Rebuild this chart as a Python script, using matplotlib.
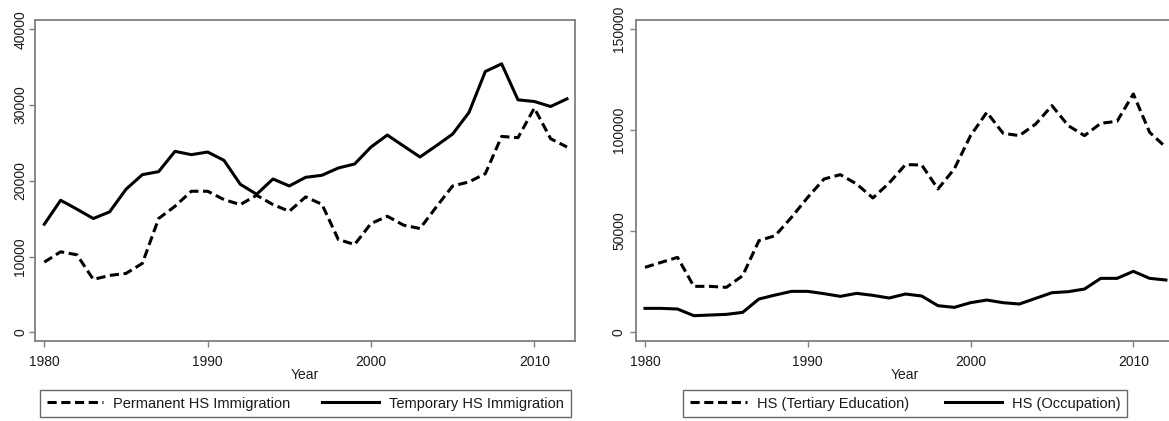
import matplotlib
matplotlib.use("Agg")
import matplotlib.pyplot as plt

plt.rcParams['font.family'] = ['Liberation Sans', 'DejaVu Sans']

years = list(range(1980, 2013))

permanent_hs = [9270, 10630, 10230, 6980, 7510, 7770, 9090, 15020, 16640, 18620,
                18620, 17520, 16860, 18090, 16860, 15980, 17870, 16900, 12250, 11590,
                14360, 15320, 14140, 13700, 16550, 19320, 19850, 20940, 25860, 25690,
                29600, 25560, 24460]
temporary_hs = [14270, 17430, 16250, 15020, 15900, 18880, 20810, 21210, 23890, 23450,
                23800, 22700, 19540, 18220, 20240, 19320, 20460, 20730, 21690, 22220,
                24460, 26040, 24590, 23140, 24630, 26170, 29020, 34430, 35440, 30690,
                30470, 29810, 30820]
tertiary_hs = [31920, 34400, 36880, 22490, 22490, 22000, 27790, 45150, 47640, 56730,
               66660, 75750, 77900, 73270, 66330, 73770, 82870, 82700, 70790, 80720,
               97260, 108830, 98410, 97260, 103000, 112140, 102220, 97260, 103380, 104370,
               117930, 98900, 91470]
occupation_hs = [11580, 11580, 11250, 7940, 8270, 8600, 9590, 16210, 18190, 20010,
                 20010, 18860, 17530, 19020, 18030, 16710, 18690, 17700, 12900, 12070,
                 14390, 15710, 14390, 13730, 16540, 19350, 19850, 21170, 26460, 26460,
                 29940, 26460, 25640]

xticks = [1980, 1990, 2000, 2010]
left_yticks = [0, 10000, 20000, 30000, 40000]
right_yticks = [0, 50000, 100000, 150000]

W, H = 1169, 421
fig = plt.figure(figsize=(W / 100, H / 100), dpi=100)
fig.patch.set_facecolor("white")

def px_axes(x0, x1, ytop, ybot):
    return fig.add_axes([x0 / W, (H - ybot) / H, (x1 - x0) / W, (ybot - ytop) / H])

axL = px_axes(35, 575.3, 20, 341)
axR = px_axes(635.7, 1174.2, 20, 341)

LW = 2.2
dash = (0, (3.0, 1.5))
spine_col = "#7f7f7f"
text_col = "#1a1a1a"

def style(ax, yticks, ylim, ypad):
    ax.set_xlim(1979.43, 2012.51)
    ax.set_ylim(*ylim)
    ax.set_xticks(xticks)
    ax.set_yticks(yticks)
    for s in ax.spines.values():
        s.set_color(spine_col)
        s.set_linewidth(1.3)
    ax.tick_params(axis="both", colors=spine_col, labelcolor=text_col,
                   length=4.3, width=1.0, labelsize=10)
    ax.tick_params(axis="x", pad=5.5)
    ax.tick_params(axis="y", pad=ypad, labelrotation=90)
    for lab in ax.get_yticklabels():
        lab.set_va("center")
    ax.text(0.5, -0.1193, "Year", transform=ax.transAxes, ha="center",
            va="baseline", fontsize=10, color=text_col)

axL.plot(years, permanent_hs, color="black", lw=LW, linestyle=dash,
         label="Permanent HS Immigration")
axL.plot(years, temporary_hs, color="black", lw=LW, solid_joinstyle="round",
         label="Temporary HS Immigration")
style(axL, left_yticks, (-1148, 41228), 1.2)

axR.plot(years, tertiary_hs, color="black", lw=LW, linestyle=dash,
         label="HS (Tertiary Education)")
axR.plot(years, occupation_hs, color="black", lw=LW, solid_joinstyle="round",
         label="HS (Occupation)")
style(axR, right_yticks, (-4613, 154613), 2.7)

def add_legend(ax, x0, x1, ytop):
    h, l = ax.get_legend_handles_labels()
    leg = fig.legend(h, l, loc="upper left", ncol=2, mode="expand",
                     bbox_to_anchor=(x0 / W, 0.0, (x1 - x0) / W, (H - ytop) / H),
                     bbox_transform=fig.transFigure, borderaxespad=0,
                     borderpad=0.45, handlelength=3.9, handletextpad=0.68,
                     fancybox=False, fontsize=10.5, frameon=True)
    fr = leg.get_frame()
    fr.set_edgecolor("#444444")
    fr.set_linewidth(1.0)
    for t in leg.get_texts():
        t.set_color(text_col)

add_legend(axL, 40, 570.7, 390)
add_legend(axR, 683.3, 1127.3, 390)

fig.savefig("out.png", dpi=100, facecolor="white")
